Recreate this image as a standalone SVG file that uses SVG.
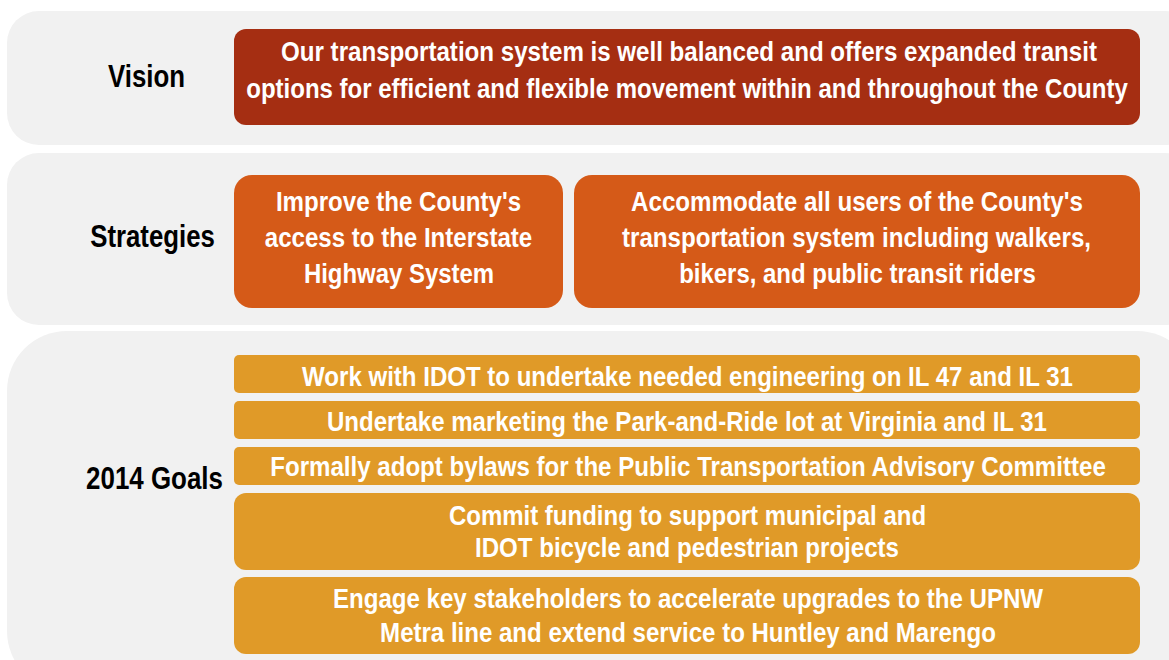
<svg xmlns="http://www.w3.org/2000/svg" width="1169" height="660" viewBox="0 0 1169 660">
<style>
.panel{fill:#F1F1F1}
.vision{fill:#A52E12}
.strat{fill:#D55A18}
.goal{fill:#E09A28}
.lbl{font-family:"Liberation Sans",Arial,sans-serif;font-weight:bold;font-size:31px;fill:#000;text-anchor:middle}
.t{font-family:"Liberation Sans",Arial,sans-serif;font-weight:bold;font-size:28px;fill:#fff;text-anchor:middle}
</style>
<rect width="1169" height="660" fill="#fff"/>
<g id="panels">
<rect class="panel" x="7" y="11" width="1190" height="134" rx="32"/>
<rect class="panel" x="7" y="153" width="1190" height="172" rx="32"/>
<rect class="panel" x="7" y="331" width="1190" height="360" rx="60"/>
</g>
<g id="label-vision"><text class="lbl" transform="translate(146.5,87) scale(0.82,1)" textLength="94" lengthAdjust="spacingAndGlyphs">Vision</text></g>
<g id="label-strategies"><text class="lbl" transform="translate(152.5,247) scale(0.82,1)" textLength="152" lengthAdjust="spacingAndGlyphs">Strategies</text></g>
<g id="label-goals"><text class="lbl" transform="translate(154.5,489) scale(0.82,1)" textLength="167" lengthAdjust="spacingAndGlyphs">2014 Goals</text></g>
<g id="vision">
<rect class="vision" x="234" y="29" width="906" height="96" rx="12"/>
<text class="t" transform="translate(689,61) scale(0.82,1)" textLength="995" lengthAdjust="spacingAndGlyphs">Our transportation system is well balanced and offers expanded transit</text>
<text class="t" transform="translate(687,98) scale(0.82,1)" textLength="1075" lengthAdjust="spacingAndGlyphs">options for efficient and flexible movement within and throughout the County</text>
</g>
<g id="strategy-1">
<rect class="strat" x="234" y="175" width="329" height="133" rx="18"/>
<text class="t" transform="translate(398.5,211) scale(0.82,1)" textLength="299" lengthAdjust="spacingAndGlyphs">Improve the County's</text>
<text class="t" transform="translate(398.5,247) scale(0.82,1)" textLength="326" lengthAdjust="spacingAndGlyphs">access to the Interstate</text>
<text class="t" transform="translate(399,283) scale(0.82,1)" textLength="232" lengthAdjust="spacingAndGlyphs">Highway System</text>
</g>
<g id="strategy-2">
<rect class="strat" x="574" y="175" width="566" height="133" rx="18"/>
<text class="t" transform="translate(857,211) scale(0.82,1)" textLength="551" lengthAdjust="spacingAndGlyphs">Accommodate all users of the County's</text>
<text class="t" transform="translate(856.5,247) scale(0.82,1)" textLength="572" lengthAdjust="spacingAndGlyphs">transportation system including walkers,</text>
<text class="t" transform="translate(857.5,283) scale(0.82,1)" textLength="435" lengthAdjust="spacingAndGlyphs">bikers, and public transit riders</text>
</g>
<g id="goal-1">
<rect class="goal" x="234" y="355" width="906" height="38" rx="5"/>
<text class="t" transform="translate(687.5,386) scale(0.82,1)" textLength="940" lengthAdjust="spacingAndGlyphs">Work with IDOT to undertake needed engineering on IL 47 and IL 31</text>
</g>
<g id="goal-2">
<rect class="goal" x="234" y="401" width="906" height="38" rx="5"/>
<text class="t" transform="translate(687,431) scale(0.82,1)" textLength="878" lengthAdjust="spacingAndGlyphs">Undertake marketing the Park-and-Ride lot at Virginia and IL 31</text>
</g>
<g id="goal-3">
<rect class="goal" x="234" y="447" width="906" height="38" rx="5"/>
<text class="t" transform="translate(688,476) scale(0.82,1)" textLength="1019" lengthAdjust="spacingAndGlyphs">Formally adopt bylaws for the Public Transportation Advisory Committee</text>
</g>
<g id="goal-4">
<rect class="goal" x="234" y="493" width="906" height="77" rx="12"/>
<text class="t" transform="translate(687.5,525) scale(0.82,1)" textLength="582" lengthAdjust="spacingAndGlyphs">Commit funding to support municipal and</text>
<text class="t" transform="translate(687,557) scale(0.82,1)" textLength="517" lengthAdjust="spacingAndGlyphs">IDOT bicycle and pedestrian projects</text>
</g>
<g id="goal-5">
<rect class="goal" x="234" y="577" width="906" height="77" rx="12"/>
<text class="t" transform="translate(688,608) scale(0.82,1)" textLength="866" lengthAdjust="spacingAndGlyphs">Engage key stakeholders to accelerate upgrades to the UPNW</text>
<text class="t" transform="translate(688,642) scale(0.82,1)" textLength="751" lengthAdjust="spacingAndGlyphs">Metra line and extend service to Huntley and Marengo</text>
</g>
<g id="connectors"></g>
</svg>
